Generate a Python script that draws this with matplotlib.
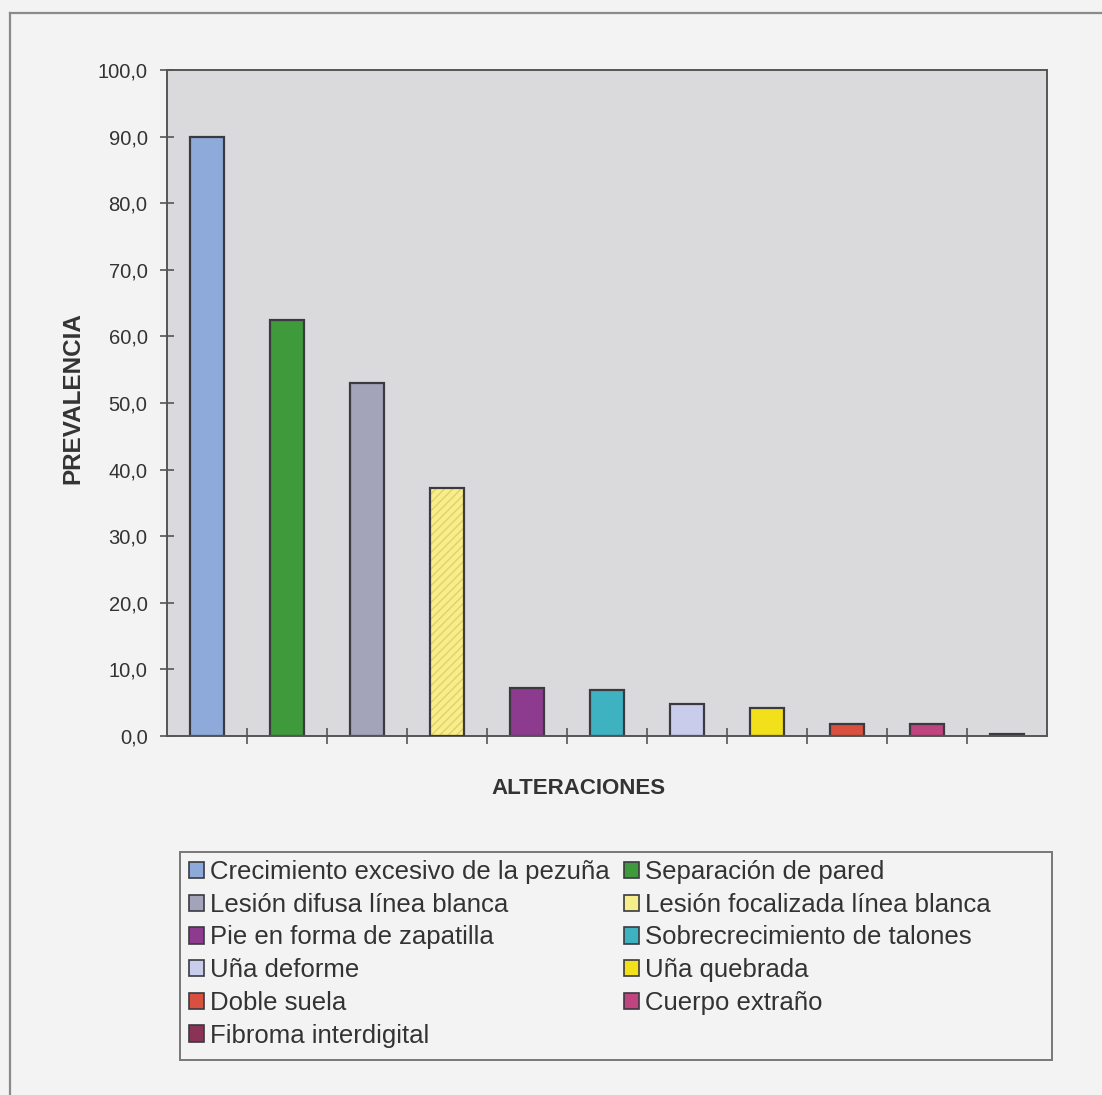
import matplotlib
matplotlib.use("Agg")
import matplotlib.pyplot as plt
from matplotlib.patches import Patch, Rectangle
from matplotlib.lines import Line2D
from matplotlib.ticker import FixedLocator, FuncFormatter

plt.rcParams['font.family'] = ['Liberation Sans', 'DejaVu Sans']

# Data
categories = [
    "Crecimiento excesivo de la pezuña",
    "Separación de pared",
    "Lesión difusa línea blanca",
    "Lesión focalizada línea blanca",
    "Pie en forma de zapatilla",
    "Sobrecrecimiento de talones",
    "Uña deforme",
    "Uña quebrada",
    "Doble suela",
    "Cuerpo extraño",
    "Fibroma interdigital",
]
prevalencia = [90.0, 62.4, 53.0, 37.2, 7.2, 6.9, 4.8, 4.2, 1.8, 1.8, 0.3]
colors = ["#8eaadb", "#3f9a3c", "#a3a3b9", "#f6ee8a", "#8c3b8e", "#3fb2c2",
          "#c9cdeb", "#f2e01a", "#d9503e", "#c0447f", "#8a3356"]
hatches = [None, None, None, "////", None, None, None, None, None, None, None]
y_ticks = [0, 10, 20, 30, 40, 50, 60, 70, 80, 90, 100]

W, H = 1102, 1095
fig = plt.figure(figsize=(W / 100, H / 100), dpi=100)
fig.patch.set_facecolor("#f3f3f4")

# page frame (top and left edges)
fig.add_artist(Line2D([10 / W, 10 / W], [0, 1 - 13 / H], transform=fig.transFigure,
                      color="#8a8a8a", lw=1.6))
fig.add_artist(Line2D([10 / W, 1], [1 - 13 / H, 1 - 13 / H], transform=fig.transFigure,
                      color="#8a8a8a", lw=1.6))

ax = fig.add_axes([167 / W, 1 - 736 / H, 880 / W, 666 / H])
ax.set_facecolor("#dadadc")

edge = "#3a3a40"
x = list(range(len(categories)))
for xi, v, c, h in zip(x, prevalencia, colors, hatches):
    if h:
        ax.bar(xi, v, width=0.42, color=c, edgecolor="#e6cf6a", hatch=h, linewidth=0, zorder=2)
        ax.bar(xi, v, width=0.42, fill=False, edgecolor=edge, linewidth=1.6, zorder=3)
    else:
        ax.bar(xi, v, width=0.42, color=c, edgecolor=edge, linewidth=1.6, zorder=2)

ax.set_xlim(-0.5, len(categories) - 0.5)
ax.set_ylim(0, 100)
ax.yaxis.set_major_locator(FixedLocator(y_ticks))
ax.yaxis.set_major_formatter(FuncFormatter(lambda v, p: f"{v:.1f}".replace(".", ",")))
ax.set_xticks([i + 0.5 for i in range(len(categories) - 1)])
ax.set_xticklabels([])
ax.tick_params(axis="y", direction="inout", length=10, width=1.2, color="#555555",
               labelsize=14.5, labelcolor="#333333", pad=9)
ax.tick_params(axis="x", direction="inout", length=12, width=1.2, color="#555555")
for s in ax.spines.values():
    s.set_color("#555555")
    s.set_linewidth(1.4)

fig.text(578 / W, 1 - 788 / H, "ALTERACIONES", ha="center", va="center",
         fontsize=16, fontweight="bold", color="#333333")
fig.text(73 / W, 1 - 398 / H, "PREVALENCIA", ha="center", va="center", rotation=90,
         fontsize=17.5, fontweight="bold", color="#333333")

# legend box
fig.add_artist(Rectangle((180 / W, 1 - 1060 / H), 872 / W, 208 / H,
                         transform=fig.transFigure, facecolor="#f3f3f4",
                         edgecolor="#777777", linewidth=1.4, zorder=1))

# row-major ordering across two columns
order = list(range(0, len(categories), 2)) + list(range(1, len(categories), 2))
handles = [Patch(facecolor=colors[i], edgecolor=edge, linewidth=1.2) for i in order]
labels = [categories[i] for i in order]
leg = fig.legend(handles, labels, ncol=2, loc="upper left",
                 bbox_to_anchor=(189 / W, 1 - 860 / H),
                 fontsize=18.5, frameon=False,
                 handlelength=0.6, handleheight=0.6, handletextpad=0.2,
                 labelspacing=0.34, borderpad=0, columnspacing=0.58,
                 borderaxespad=0)
leg.set_zorder(2)
for t in leg.get_texts():
    t.set_color("#333333")

fig.savefig("out.png", dpi=100, facecolor=fig.get_facecolor())
